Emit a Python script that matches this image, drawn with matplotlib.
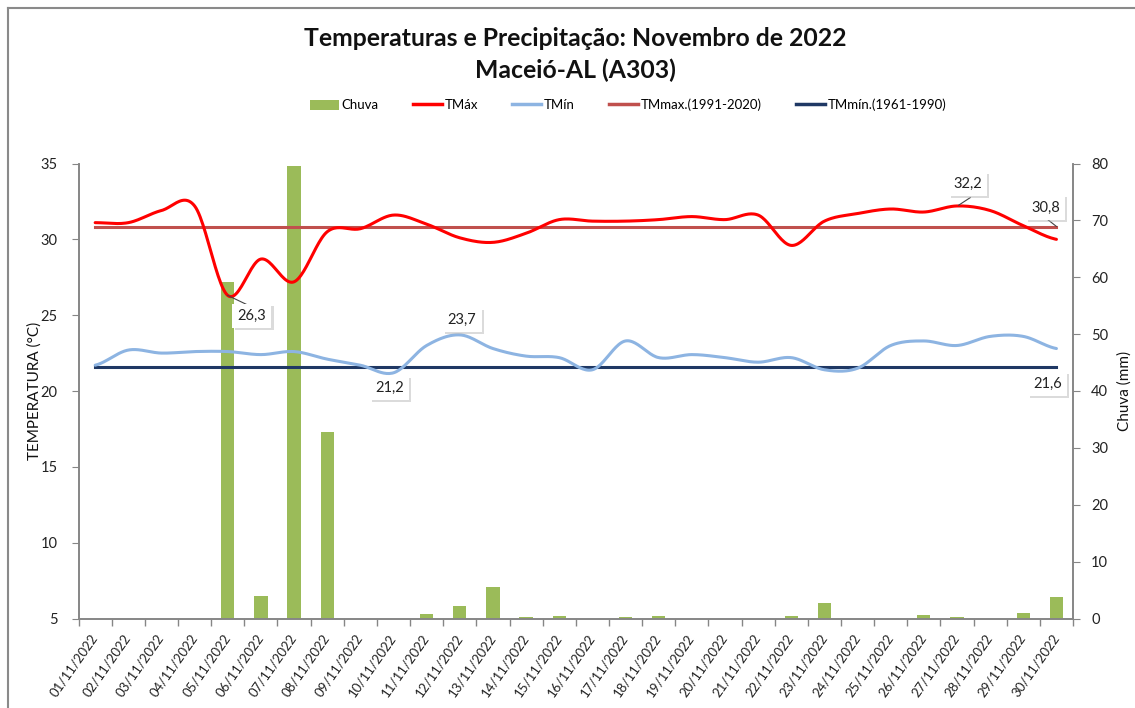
import numpy as np
import matplotlib
matplotlib.use("Agg")
import matplotlib.pyplot as plt
from matplotlib.lines import Line2D
from matplotlib.patches import Patch
import matplotlib.patheffects as pe

plt.rcParams['font.family'] = ['Lato', 'DejaVu Sans']

# ---------------- data ----------------
dates = [f"{d:02d}/11/2022" for d in range(1, 31)]
chuva = [0, 0, 0, 0, 59.2, 4.0, 79.6, 32.8, 0, 0,
         0.8, 2.2, 5.6, 0.2, 0.4, 0, 0.2, 0.4, 0, 0,
         0, 0.4, 2.8, 0, 0, 0.6, 0.2, 0, 1.0, 3.8]
tmax = [31.1, 31.1, 31.9, 32.2, 26.3, 28.7, 27.2, 30.5, 30.7, 31.6,
        31.0, 30.1, 29.8, 30.4, 31.3, 31.2, 31.2, 31.3, 31.5, 31.3,
        31.6, 29.6, 31.2, 31.7, 32.0, 31.8, 32.2, 31.9, 30.9, 30.0]
tmin = [21.7, 22.7, 22.5, 22.6, 22.6, 22.4, 22.6, 22.1, 21.7, 21.2,
        23.0, 23.7, 22.8, 22.3, 22.2, 21.4, 23.3, 22.2, 22.4, 22.2,
        21.9, 22.2, 21.4, 21.5, 23.0, 23.3, 23.0, 23.6, 23.6, 22.8]
tm_max_normal = 30.8
tm_min_normal = 21.6
labels_pts = [("26,3", 4.73, 24.95), ("23,7", 11.07, 24.68), ("21,2", 8.89, 20.2),
              ("32,2", 26.33, 33.65), ("30,8", 28.67, 32.1), ("21,6", 28.74, 20.46)]


def smooth(y, n=24):
    """Excel-like smoothed line (Catmull-Rom Bezier) through the points."""
    y = np.asarray(y, float)
    x = np.arange(len(y), dtype=float)
    xs, ys = [], []
    for i in range(len(y) - 1):
        p0 = y[i - 1] if i > 0 else y[i]
        p3 = y[i + 2] if i + 2 < len(y) else y[i + 1]
        c1 = y[i] + (y[i + 1] - p0) / 6
        c2 = y[i + 1] - (p3 - y[i]) / 6
        t = np.linspace(0, 1, n, endpoint=False)
        b = ((1 - t) ** 3 * y[i] + 3 * (1 - t) ** 2 * t * c1 +
             3 * (1 - t) * t ** 2 * c2 + t ** 3 * y[i + 1])
        xs.append(x[i] + t)
        ys.append(b)
    xs.append([x[-1]]); ys.append([y[-1]])
    return np.concatenate(xs), np.concatenate(ys)


W, H = 1135, 708
fig = plt.figure(figsize=(W / 100, H / 100), dpi=100)

# outer frame
fig.add_artist(Line2D([8 / W, 1], [1 - 8 / H, 1 - 8 / H], color='#8a8a8a', lw=1.5))
fig.add_artist(Line2D([8 / W, 8 / W], [0, 1 - 8 / H], color='#8a8a8a', lw=1.5))

ax = fig.add_axes([78.6 / W, 1 - 618.5 / H, (1073 - 78.6) / W, (618.5 - 163.5) / H])
ax2 = ax.twinx()

x = np.arange(len(dates))
ax2.bar(x, chuva, width=0.4, color='#9BBB59', edgecolor='none', zorder=1)
ax2.set_ylim(0, 80)
ax2.set_yticks(range(0, 81, 10))

xs, ys = smooth(tmax)
ax.plot(xs, ys, color='#FF0000', lw=2.2, solid_capstyle='round', zorder=5)
xs, ys = smooth(tmin)
ax.plot(xs, ys, color='#8DB4E2', lw=2.2, solid_capstyle='round', zorder=4)
ax.plot([x[0], x[-1]], [tm_max_normal] * 2, color='#C0504D', lw=2.2, zorder=3)
ax.plot([x[0], x[-1]], [tm_min_normal] * 2, color='#1F3864', lw=2.2, zorder=3)

ax.set_zorder(ax2.get_zorder() + 1)
ax.patch.set_visible(False)

ax.set_xlim(-0.5, len(dates) - 0.5)
ax.set_ylim(5, 35)
ax.set_yticks(range(5, 36, 5))
ax.set_xticks(x)
ax.set_xticklabels(dates, rotation=55, ha='right', va='center',
                   rotation_mode='anchor', fontsize=9.5, color='#222222')
ax.set_xticks(np.arange(-0.5, len(dates), 1), minor=True)
ax.tick_params(axis='x', which='major', length=0, pad=12)
ax.tick_params(axis='x', which='minor', length=5, color='#868686', width=1)
ax.tick_params(axis='y', length=5, color='#868686', labelsize=10.5, labelcolor='#222222', pad=10)
ax2.tick_params(axis='y', length=5, color='#868686', labelsize=10.5, labelcolor='#222222', pad=8)

for a in (ax, ax2):
    a.spines['top'].set_visible(False)
    for s in ('left', 'right', 'bottom'):
        a.spines[s].set_color('#868686')
        a.spines[s].set_linewidth(1.2)

# axis titles
fig.text(35 / W, 1 - 391 / H, 'TEMPERATURA (°C)', rotation=90, ha='center', va='center',
         fontsize=11, color='#111111')
fig.text(1125 / W, 1 - 391 / H, 'Chuva (mm)', rotation=90, ha='center', va='center',
         fontsize=11, color='#111111')

# data labels
for txt, lx, ly in labels_pts:
    t = ax.text(lx, ly, txt, ha='center', va='center', fontsize=10.5, color='#222222', zorder=10,
                bbox=dict(boxstyle='square,pad=0.35', fc='white', ec='none'))
    t.get_bbox_patch().set_path_effects([
        pe.withSimplePatchShadow(offset=(1.5, -1.5), shadow_rgbFace='#b0b0b0', alpha=0.45),
        pe.Normal()])

# leader lines
ax.plot([4, 4.67], [26.3, 25.6], color='#444444', lw=0.8, zorder=9)
ax.plot([26.05, 26.4], [32.25, 32.75], color='#444444', lw=0.8, zorder=9)
ax.plot([28.68, 29.0], [31.4, 30.85], color='#444444', lw=0.8, zorder=9)

# title
fig.text(575 / W, 1 - 38 / H, 'Temperaturas e Precipitação: Novembro de 2022',
         ha='center', va='center', fontsize=17.8, fontweight='bold', color='#111111')
fig.text(575 / W, 1 - 70.5 / H, 'Maceió-AL (A303)',
         ha='center', va='center', fontsize=17.8, fontweight='bold', color='#111111')

# legend
handles = [Patch(facecolor='#9BBB59', edgecolor='none'),
           Line2D([], [], color='#FF0000', lw=2.5),
           Line2D([], [], color='#8DB4E2', lw=2.5),
           Line2D([], [], color='#C0504D', lw=2.5),
           Line2D([], [], color='#1F3864', lw=2.5)]
names = ['Chuva', 'TMáx', 'TMín', 'TMmax.(1991-2020)', 'TMmín.(1961-1990)']
fig.legend(handles, names, loc='center', bbox_to_anchor=(628 / W, 1 - 105 / H), ncol=5,
           frameon=False, fontsize=9.5, handlelength=2.2, handletextpad=0.2,
           columnspacing=2.6, handleheight=0.8)

fig.savefig('out.png', dpi=100)
